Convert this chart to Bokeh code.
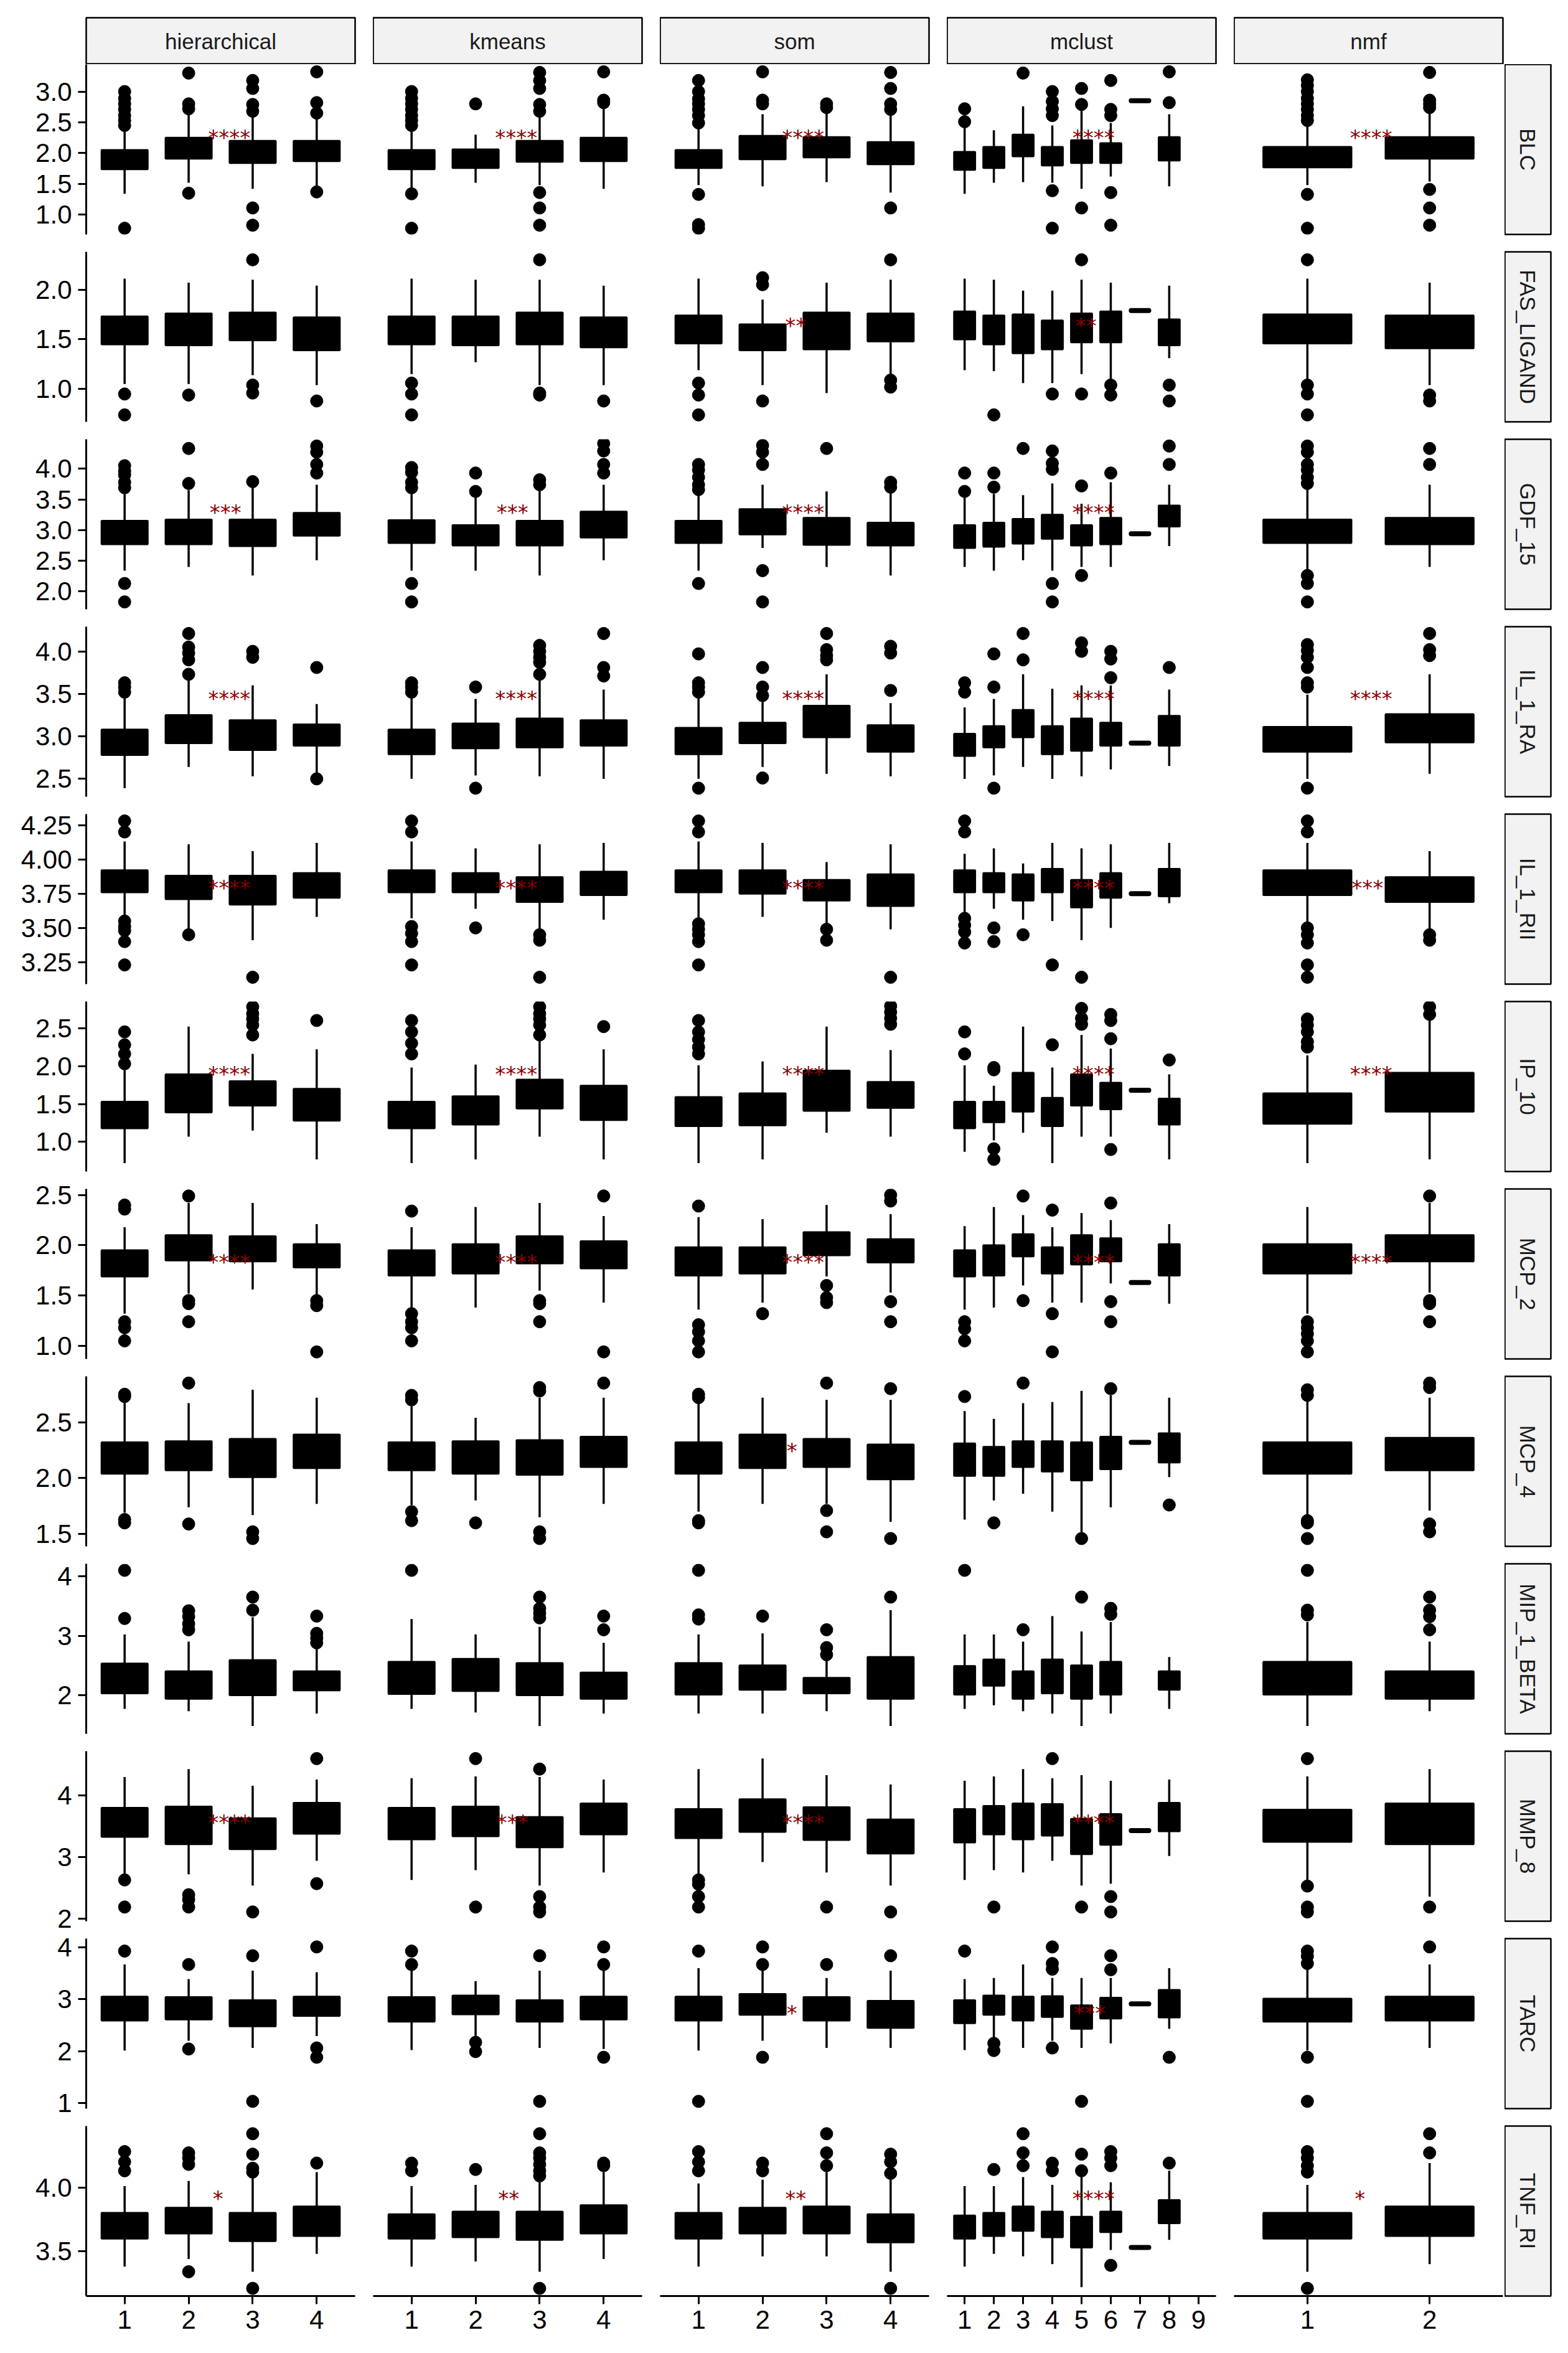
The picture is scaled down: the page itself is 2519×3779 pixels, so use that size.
import math
from bokeh.plotting import figure
from bokeh.layouts import column, row
from bokeh.models import FixedTicker, Range1d, Spacer
from bokeh.core.properties import value
from bokeh.embed import file_html
from bokeh.resources import INLINE

METHODS = ["hierarchical", "kmeans", "som", "mclust", "nmf"]
LEVELS = {"hierarchical": 4, "kmeans": 4, "som": 4, "mclust": 9, "nmf": 2}
MARKERS = ["BLC", "FAS_LIGAND", "GDF_15", "IL_1_RA", "IL_1_RII", "IP_10",
           "MCP_2", "MCP_4", "MIP_1_BETA", "MMP_8", "TARC", "TNF_RI"]

# box = (lower whisker, Q1, Q3, upper whisker); None = empty cluster
BLC_BOX = dict(
    hierarchical=[(1.34, 1.74, 2.05, 2.41), (1.52, 1.91, 2.25, 2.65), (1.42, 1.84, 2.20, 2.61), (1.47, 1.87, 2.20, 2.57)],
    kmeans=[(1.44, 1.74, 2.05, 2.41), (1.52, 1.76, 2.06, 2.30), (1.48, 1.86, 2.20, 2.61), (1.42, 1.87, 2.25, 2.72)],
    som=[(1.48, 1.76, 2.05, 2.41), (1.46, 1.90, 2.28, 2.63), (1.53, 1.93, 2.26, 2.68), (1.36, 1.82, 2.18, 2.65)],
    mclust=[(1.34, 1.73, 2.02, 2.41), (1.52, 1.76, 2.10, 2.37), (1.53, 1.95, 2.30, 2.76), (1.52, 1.80, 2.10, 2.45),
            (1.42, 1.84, 2.21, 2.72), (1.62, 1.84, 2.16, 2.49), (2.85, 2.85, 2.85, 2.85), (1.46, 1.88, 2.26, 2.63), None],
    nmf=[(1.48, 1.77, 2.10, 2.45), (1.54, 1.91, 2.26, 2.66)])
BLC_OUT = dict(
    hierarchical=[[3.00, 2.89, 2.80, 2.71, 2.61, 2.53, 2.45, 0.78], [3.30, 2.80, 2.72, 1.35], [3.18, 3.05, 2.79, 2.68, 1.11, 0.83], [3.32, 2.82, 2.65, 1.37]],
    kmeans=[[3.00, 2.89, 2.80, 2.71, 2.61, 2.53, 2.45, 1.34, 0.78], [2.80], [3.31, 3.18, 3.05, 2.79, 2.68, 1.36, 1.11, 0.83], [3.32, 2.86, 2.82]],
    som=[[3.18, 3.00, 2.88, 2.80, 2.71, 2.61, 2.49, 1.33, 0.84, 0.78], [3.32, 2.86, 2.80], [2.80, 2.74], [3.31, 3.05, 2.80, 2.71, 1.11]],
    mclust=[[2.72, 2.51], [], [3.30], [3.00, 2.84, 2.72, 2.61, 1.39, 0.78], [3.05, 2.79, 1.11], [3.18, 2.71, 2.61, 1.36, 0.83], [], [3.32, 2.82], []],
    nmf=[[3.19, 3.10, 3.00, 2.89, 2.80, 2.71, 2.61, 2.53, 1.33, 0.78], [3.31, 2.86, 2.80, 2.74, 1.41, 1.11, 0.83]])

FAS_LIGAND_BOX = dict(
    hierarchical=[(1.05, 1.45, 1.73, 2.11), (1.05, 1.44, 1.76, 2.07), (1.14, 1.49, 1.77, 2.10), (1.04, 1.39, 1.72, 2.04)],
    kmeans=[(1.15, 1.45, 1.73, 2.11), (1.27, 1.44, 1.73, 2.10), (1.04, 1.45, 1.77, 2.10), (1.04, 1.42, 1.72, 2.04)],
    som=[(1.19, 1.46, 1.74, 2.11), (1.04, 1.39, 1.65, 1.90), (0.96, 1.40, 1.77, 2.07), (1.13, 1.48, 1.76, 2.10)],
    mclust=[(1.19, 1.50, 1.78, 2.11), (1.18, 1.45, 1.74, 2.10), (1.06, 1.36, 1.75, 1.99), (1.06, 1.40, 1.69, 1.99),
            (1.15, 1.47, 1.76, 2.10), (1.09, 1.47, 1.78, 2.07), (1.79, 1.79, 1.79, 1.79), (1.31, 1.44, 1.70, 2.04), None],
    nmf=[(1.09, 1.46, 1.75, 2.11), (1.04, 1.41, 1.74, 2.07)])
FAS_LIGAND_OUT = dict(
    hierarchical=[[0.95, 0.74], [0.94], [2.30, 1.04, 0.96], [0.88]],
    kmeans=[[1.06, 0.95, 0.74], [], [2.30, 0.96, 0.94], [0.88]],
    som=[[1.06, 0.94, 0.74], [2.12, 2.05, 0.88], [], [2.30, 1.09, 1.02]],
    mclust=[[], [0.74], [], [0.95], [2.30, 0.95], [1.04, 0.94], [], [1.04, 0.88], []],
    nmf=[[2.30, 1.04, 0.95, 0.74], [0.94, 0.88]])

GDF_15_BOX = dict(
    hierarchical=[(2.34, 2.77, 3.15, 3.66), (2.40, 2.77, 3.17, 3.65), (2.26, 2.74, 3.17, 3.70), (2.51, 2.91, 3.28, 3.74)],
    kmeans=[(2.34, 2.79, 3.16, 3.66), (2.34, 2.75, 3.08, 3.55), (2.26, 2.75, 3.15, 3.66), (2.51, 2.88, 3.30, 3.74)],
    som=[(2.34, 2.79, 3.15, 3.63), (2.71, 2.93, 3.34, 3.74), (2.40, 2.76, 3.20, 3.63), (2.26, 2.75, 3.12, 3.63)],
    mclust=[(2.40, 2.71, 3.08, 3.55), (2.34, 2.73, 3.12, 3.59), (2.51, 2.78, 3.18, 3.57), (2.34, 2.86, 3.25, 3.76),
            (2.40, 2.75, 3.08, 3.43), (2.40, 2.77, 3.20, 3.78), (2.94, 2.94, 2.94, 2.94), (2.74, 3.06, 3.40, 3.74), None],
    nmf=[(2.30, 2.79, 3.17, 3.70), (2.40, 2.77, 3.20, 3.74)])
GDF_15_OUT = dict(
    hierarchical=[[4.05, 3.96, 3.90, 3.78, 3.69, 2.13, 1.83], [4.33, 3.76], [3.79], [4.37, 4.27, 4.07, 3.93]],
    kmeans=[[4.02, 3.94, 3.78, 3.69, 2.13, 1.83], [3.93, 3.63], [3.82, 3.74], [4.41, 4.29, 4.07, 3.93]],
    som=[[4.07, 3.98, 3.86, 3.74, 3.66, 2.13], [4.38, 4.27, 4.07, 2.34, 1.83], [4.33], [3.78, 3.70]],
    mclust=[[3.93, 3.63], [3.93, 3.70], [4.33], [4.29, 4.09, 3.99, 2.13, 1.83], [3.72, 2.26], [3.93], [], [4.37, 4.07], []],
    nmf=[[4.37, 4.27, 4.07, 3.98, 3.86, 3.76, 2.26, 2.13, 1.83], [4.33, 4.07]])

IL_1_RA_BOX = dict(
    hierarchical=[(2.39, 2.78, 3.08, 3.46), (2.64, 2.92, 3.25, 3.66), (2.53, 2.84, 3.19, 3.60), (2.57, 2.89, 3.14, 3.38)],
    kmeans=[(2.50, 2.79, 3.08, 3.46), (2.54, 2.86, 3.15, 3.44), (2.53, 2.87, 3.21, 3.66), (2.50, 2.89, 3.19, 3.55)],
    som=[(2.50, 2.79, 3.10, 3.46), (2.64, 2.92, 3.16, 3.41), (2.56, 2.99, 3.36, 3.73), (2.53, 2.82, 3.13, 3.39)],
    mclust=[(2.50, 2.77, 3.03, 3.34), (2.54, 2.87, 3.12, 3.44), (2.64, 2.99, 3.31, 3.73), (2.50, 2.79, 3.12, 3.56),
            (2.53, 2.83, 3.21, 3.60), (2.61, 2.89, 3.16, 3.60), (2.92, 2.92, 2.92, 2.92), (2.65, 2.89, 3.24, 3.55), None],
    nmf=[(2.50, 2.82, 3.11, 3.49), (2.56, 2.93, 3.26, 3.73)])
IL_1_RA_OUT = dict(
    hierarchical=[[3.63, 3.58, 3.52], [4.21, 4.05, 3.98, 3.90, 3.73], [4.00, 3.93], [3.81, 2.50]],
    kmeans=[[3.63, 3.58, 3.52], [3.58, 2.39], [4.07, 4.00, 3.93, 3.87, 3.73], [4.21, 3.81, 3.71]],
    som=[[3.97, 3.63, 3.58, 3.52, 2.39], [3.81, 3.58, 3.48, 2.51], [4.21, 4.02, 3.95, 3.90], [4.06, 3.98, 3.54]],
    mclust=[[3.63, 3.52], [3.97, 3.58, 2.39], [4.21, 3.90], [], [4.10, 4.00], [4.00, 3.91, 3.69], [], [3.81], []],
    nmf=[[4.08, 4.01, 3.93, 3.81, 3.63, 3.58, 2.39], [4.21, 4.02, 3.95]])

IL_1_RII_BOX = dict(
    hierarchical=[(3.57, 3.76, 3.92, 4.13), (3.48, 3.71, 3.88, 4.11), (3.41, 3.67, 3.88, 4.06), (3.58, 3.72, 3.90, 4.12)],
    kmeans=[(3.57, 3.76, 3.92, 4.13), (3.64, 3.76, 3.90, 4.08), (3.47, 3.69, 3.87, 4.11), (3.56, 3.74, 3.91, 4.12)],
    som=[(3.56, 3.76, 3.92, 4.13), (3.58, 3.75, 3.92, 4.12), (3.52, 3.70, 3.85, 3.98), (3.49, 3.66, 3.89, 4.11)],
    mclust=[(3.60, 3.76, 3.92, 4.04), (3.64, 3.76, 3.90, 4.08), (3.56, 3.70, 3.89, 3.97), (3.55, 3.76, 3.93, 4.12),
            (3.41, 3.65, 3.85, 4.08), (3.50, 3.72, 3.90, 4.11), (3.75, 3.75, 3.75, 3.75), (3.68, 3.73, 3.93, 4.12), None],
    nmf=[(3.53, 3.74, 3.92, 4.12), (3.47, 3.69, 3.87, 4.06)])
IL_1_RII_OUT = dict(
    hierarchical=[[4.28, 4.20, 3.55, 3.51, 3.48, 3.40, 3.23], [3.45], [3.14], []],
    kmeans=[[4.28, 4.20, 3.51, 3.46, 3.40, 3.23], [3.50], [3.45, 3.41, 3.14], []],
    som=[[4.28, 4.20, 3.53, 3.49, 3.45, 3.40, 3.23], [], [3.49, 3.41], [3.14]],
    mclust=[[4.28, 4.20, 3.57, 3.52, 3.47, 3.39], [3.50, 3.40], [3.45], [3.23], [3.14], [], [], [], []],
    nmf=[[4.28, 4.20, 3.50, 3.45, 3.39, 3.23, 3.14], [3.45, 3.41]])

IP_10_BOX = dict(
    hierarchical=[(0.72, 1.18, 1.53, 1.97), (1.07, 1.39, 1.89, 2.52), (1.15, 1.48, 1.80, 2.16), (0.77, 1.28, 1.70, 2.22)],
    kmeans=[(0.72, 1.18, 1.53, 1.98), (0.77, 1.23, 1.60, 2.02), (1.07, 1.44, 1.82, 2.35), (0.77, 1.29, 1.74, 2.22)],
    som=[(0.72, 1.21, 1.59, 2.01), (0.77, 1.22, 1.64, 2.06), (1.12, 1.41, 1.94, 2.52), (1.07, 1.45, 1.79, 2.21)],
    mclust=[(0.87, 1.18, 1.53, 2.01), (1.02, 1.26, 1.53, 1.74), (1.12, 1.40, 1.91, 2.52), (0.72, 1.21, 1.58, 1.98),
            (1.07, 1.48, 1.89, 2.41), (1.07, 1.43, 1.78, 2.23), (1.68, 1.68, 1.68, 1.68), (0.77, 1.23, 1.57, 1.89), None],
    nmf=[(0.72, 1.24, 1.64, 2.14), (0.77, 1.40, 1.91, 2.60)])
IP_10_OUT = dict(
    hierarchical=[[2.45, 2.28, 2.16, 2.03], [], [2.78, 2.69, 2.62, 2.54, 2.41], [2.60]],
    kmeans=[[2.60, 2.45, 2.30, 2.16], [], [2.78, 2.69, 2.62, 2.54, 2.41], [2.52]],
    som=[[2.60, 2.45, 2.35, 2.25, 2.16], [], [], [2.79, 2.71, 2.63, 2.55]],
    mclust=[[2.45, 2.16], [1.98, 1.95, 0.91, 0.77], [], [2.28], [2.76, 2.63, 2.55], [2.68, 2.60, 2.36, 0.90], [], [2.08], []],
    nmf=[[2.62, 2.54, 2.45, 2.32, 2.25], [2.78, 2.68]])

MCP_2_BOX = dict(
    hierarchical=[(1.32, 1.69, 1.95, 2.18), (1.52, 1.85, 2.10, 2.42), (1.56, 1.84, 2.09, 2.42), (1.50, 1.78, 2.01, 2.21)],
    kmeans=[(1.38, 1.70, 1.95, 2.18), (1.38, 1.72, 2.01, 2.38), (1.55, 1.82, 2.09, 2.42), (1.43, 1.77, 2.04, 2.29)],
    som=[(1.36, 1.70, 1.98, 2.28), (1.43, 1.72, 1.98, 2.26), (1.69, 1.90, 2.13, 2.40), (1.53, 1.83, 2.06, 2.31)],
    mclust=[(1.36, 1.69, 1.95, 2.19), (1.38, 1.70, 2.00, 2.38), (1.60, 1.89, 2.11, 2.30), (1.43, 1.72, 1.98, 2.18),
            (1.43, 1.81, 2.10, 2.32), (1.62, 1.84, 2.07, 2.25), (1.63, 1.63, 1.63, 1.63), (1.42, 1.70, 2.01, 2.21), None],
    nmf=[(1.32, 1.72, 2.01, 2.38), (1.53, 1.84, 2.10, 2.42)])
MCP_2_OUT = dict(
    hierarchical=[[2.40, 2.36, 1.24, 1.18, 1.05], [2.49, 1.45, 1.42, 1.24], [], [1.45, 1.40, 0.94]],
    kmeans=[[2.34, 1.32, 1.24, 1.18, 1.05], [], [1.45, 1.42, 1.24], [2.49, 0.94]],
    som=[[2.39, 1.21, 1.14, 1.05, 0.94], [1.32], [1.60, 1.48, 1.43], [2.50, 2.44, 1.44, 1.24]],
    mclust=[[1.24, 1.17, 1.05], [], [2.49, 1.45], [2.35, 1.32, 0.94], [], [2.42, 1.44, 1.24], [], [], []],
    nmf=[[1.24, 1.18, 1.12, 1.05, 0.94], [2.49, 1.45, 1.42, 1.24]])

MCP_4_BOX = dict(
    hierarchical=[(1.69, 2.04, 2.32, 2.68), (1.74, 2.07, 2.33, 2.67), (1.67, 2.01, 2.35, 2.79), (1.77, 2.09, 2.39, 2.72)],
    kmeans=[(1.76, 2.07, 2.32, 2.68), (1.80, 2.04, 2.33, 2.54), (1.65, 2.03, 2.34, 2.72), (1.77, 2.10, 2.37, 2.72)],
    som=[(1.70, 2.04, 2.32, 2.68), (1.77, 2.09, 2.39, 2.72), (1.77, 2.10, 2.35, 2.70), (1.61, 1.99, 2.30, 2.70)],
    mclust=[(1.63, 2.02, 2.31, 2.60), (1.80, 2.02, 2.28, 2.53), (1.86, 2.10, 2.33, 2.67), (1.70, 2.06, 2.33, 2.68),
            (1.50, 1.98, 2.32, 2.78), (1.74, 2.08, 2.37, 2.74), (2.32, 2.32, 2.32, 2.32), (2.01, 2.14, 2.40, 2.72), None],
    nmf=[(1.67, 2.04, 2.32, 2.70), (1.71, 2.07, 2.36, 2.72)])
MCP_4_OUT = dict(
    hierarchical=[[2.75, 2.73, 1.63, 1.60], [2.85, 1.59], [1.52, 1.46], []],
    kmeans=[[2.74, 2.70, 1.70, 1.62], [1.60], [2.81, 2.78, 1.52, 1.46], [2.85]],
    som=[[2.75, 2.72, 1.62, 1.60], [], [2.85, 1.71, 1.52], [2.80, 1.46]],
    mclust=[[2.73], [1.60], [2.85], [], [1.46], [2.80], [], [1.76], []],
    nmf=[[2.79, 2.74, 1.62, 1.60, 1.46], [2.85, 2.81, 1.59, 1.52]])

MIP_1_BETA_BOX = dict(
    hierarchical=[(1.77, 2.03, 2.53, 3.02), (1.73, 1.94, 2.40, 2.90), (1.48, 2.00, 2.59, 3.31), (1.69, 2.08, 2.40, 2.80)],
    kmeans=[(1.77, 2.02, 2.56, 3.28), (1.71, 2.07, 2.61, 3.02), (1.48, 2.00, 2.54, 3.15), (1.69, 1.94, 2.38, 2.88)],
    som=[(1.69, 2.01, 2.54, 3.02), (1.69, 2.09, 2.50, 3.04), (1.73, 2.03, 2.29, 2.60), (1.48, 1.94, 2.64, 3.43)],
    mclust=[(1.77, 2.01, 2.49, 3.02), (1.83, 2.16, 2.60, 3.02), (1.73, 1.94, 2.40, 2.90), (1.69, 2.03, 2.60, 3.33),
            (1.48, 1.94, 2.50, 3.07), (1.69, 2.01, 2.56, 3.23), None, (1.77, 2.09, 2.40, 2.64), None],
    nmf=[(1.48, 2.01, 2.56, 3.23), (1.73, 1.94, 2.40, 2.90)])
MIP_1_BETA_OUT = dict(
    hierarchical=[[4.10, 3.29], [3.42, 3.32, 3.20, 3.10], [3.65, 3.43], [3.33, 3.04, 2.96, 2.88]],
    kmeans=[[4.10], [], [3.65, 3.46, 3.38, 3.30], [3.33, 3.10]],
    som=[[4.10, 3.35, 3.28], [3.33], [3.10, 2.80, 2.68], [3.65]],
    mclust=[[4.10], [], [3.10], [], [3.65], [3.46, 3.36], [], [], []],
    nmf=[[4.10, 3.43, 3.35], [3.65, 3.43, 3.32, 3.10]])

MMP_8_BOX = dict(
    hierarchical=[(2.72, 3.33, 3.80, 4.30), (2.72, 3.21, 3.82, 4.43), (2.54, 3.13, 3.63, 4.16), (2.94, 3.38, 3.88, 4.26)],
    kmeans=[(2.63, 3.29, 3.80, 4.28), (2.79, 3.34, 3.82, 4.31), (2.54, 3.16, 3.65, 4.30), (2.75, 3.37, 3.87, 4.26)],
    som=[(2.69, 3.31, 3.78, 4.43), (2.92, 3.41, 3.94, 4.60), (2.75, 3.28, 3.81, 4.33), (2.54, 3.06, 3.61, 4.18)],
    mclust=[(2.63, 3.24, 3.78, 4.24), (2.79, 3.37, 3.83, 4.31), (2.75, 3.29, 3.87, 4.43), (2.94, 3.35, 3.86, 4.28),
            (2.54, 3.05, 3.62, 4.33), (2.57, 3.20, 3.70, 4.24), (3.43, 3.43, 3.43, 3.43), (3.02, 3.42, 3.88, 4.26), None],
    nmf=[(2.63, 3.25, 3.77, 4.31), (2.36, 3.21, 3.87, 4.43)])
MMP_8_OUT = dict(
    hierarchical=[[2.63, 2.19], [2.39, 2.31, 2.19], [2.11], [4.60, 2.57]],
    kmeans=[[], [4.60, 2.19], [4.43, 2.36, 2.19, 2.11], []],
    som=[[2.63, 2.56, 2.36, 2.19], [], [2.19], [2.11]],
    mclust=[[], [2.19], [], [4.60], [2.19], [2.36, 2.11], [], [], []],
    nmf=[[4.60, 2.53, 2.19, 2.11], [2.19]])

TARC_BOX = dict(
    hierarchical=[(2.01, 2.59, 3.05, 3.67), (2.20, 2.61, 3.04, 3.39), (2.06, 2.48, 2.98, 3.55), (2.29, 2.68, 3.05, 3.52)],
    kmeans=[(2.02, 2.57, 3.04, 3.60), (2.27, 2.71, 3.07, 3.35), (2.06, 2.57, 2.98, 3.55), (2.04, 2.61, 3.05, 3.58)],
    som=[(2.01, 2.59, 3.05, 3.60), (2.20, 2.70, 3.10, 3.60), (2.06, 2.59, 3.04, 3.41), (2.06, 2.45, 2.97, 3.55)],
    mclust=[(2.02, 2.54, 2.98, 3.39), (2.27, 2.70, 3.07, 3.41), (2.06, 2.59, 3.05, 3.67), (2.20, 2.66, 3.06, 3.41),
            (2.06, 2.43, 2.88, 3.41), (2.15, 2.63, 3.03, 3.41), (2.91, 2.91, 2.91, 2.91), (2.43, 2.65, 3.18, 3.60), None],
    nmf=[(2.01, 2.57, 3.01, 3.58), (2.06, 2.59, 3.05, 3.67)])
TARC_OUT = dict(
    hierarchical=[[3.93], [3.67, 2.04], [3.84, 1.03], [4.01, 2.06, 1.88]],
    kmeans=[[3.93, 3.67], [2.17, 1.99], [3.84, 1.03], [4.01, 3.67, 1.88]],
    som=[[3.93, 1.03], [4.01, 3.67, 1.88], [3.67], [3.84]],
    mclust=[[3.93], [2.15, 2.01], [], [4.01, 3.69, 3.58, 2.06], [1.03], [3.84, 3.57], [], [1.88], []],
    nmf=[[3.93, 3.83, 3.69, 1.88, 1.03], [4.01]])

TNF_RI_BOX = dict(
    hierarchical=[(3.38, 3.60, 3.80, 4.01), (3.44, 3.64, 3.84, 4.05), (3.34, 3.58, 3.80, 4.08), (3.48, 3.62, 3.85, 4.12)],
    kmeans=[(3.38, 3.60, 3.79, 4.01), (3.42, 3.61, 3.81, 4.02), (3.34, 3.59, 3.81, 4.08), (3.44, 3.64, 3.86, 4.12)],
    som=[(3.38, 3.60, 3.80, 4.03), (3.46, 3.64, 3.84, 4.06), (3.46, 3.64, 3.85, 4.12), (3.34, 3.57, 3.79, 4.06)],
    mclust=[(3.38, 3.60, 3.78, 4.01), (3.48, 3.62, 3.80, 4.01), (3.46, 3.66, 3.85, 4.08), (3.40, 3.61, 3.81, 4.02),
            (3.22, 3.53, 3.77, 4.09), (3.51, 3.65, 3.81, 4.04), (3.53, 3.53, 3.53, 3.53), (3.59, 3.72, 3.90, 4.13), None],
    nmf=[(3.34, 3.60, 3.80, 4.02), (3.40, 3.62, 3.85, 4.19)])
TNF_RI_OUT = dict(
    hierarchical=[[4.28, 4.20, 4.13], [4.27, 4.23, 4.18, 3.34], [4.42, 4.26, 4.15, 4.12, 3.21], [4.19]],
    kmeans=[[4.19, 4.13], [4.14], [4.42, 4.27, 4.23, 4.18, 4.13, 4.09, 3.21], [4.19, 4.17]],
    som=[[4.28, 4.20, 4.13], [4.19, 4.13], [4.42, 4.27, 4.17], [4.26, 4.20, 4.11, 3.21]],
    mclust=[[], [4.14], [4.42, 4.27, 4.17], [4.19, 4.13], [4.26, 4.13], [4.28, 4.23, 4.17, 3.39], [], [4.19], []],
    nmf=[[4.28, 4.23, 4.17, 4.12, 3.21], [4.42, 4.27]])

BOXES = {"BLC": BLC_BOX, "FAS_LIGAND": FAS_LIGAND_BOX, "GDF_15": GDF_15_BOX, "IL_1_RA": IL_1_RA_BOX,
         "IL_1_RII": IL_1_RII_BOX, "IP_10": IP_10_BOX, "MCP_2": MCP_2_BOX, "MCP_4": MCP_4_BOX,
         "MIP_1_BETA": MIP_1_BETA_BOX, "MMP_8": MMP_8_BOX, "TARC": TARC_BOX, "TNF_RI": TNF_RI_BOX}
OUTLIERS = {"BLC": BLC_OUT, "FAS_LIGAND": FAS_LIGAND_OUT, "GDF_15": GDF_15_OUT, "IL_1_RA": IL_1_RA_OUT,
            "IL_1_RII": IL_1_RII_OUT, "IP_10": IP_10_OUT, "MCP_2": MCP_2_OUT, "MCP_4": MCP_4_OUT,
            "MIP_1_BETA": MIP_1_BETA_OUT, "MMP_8": MMP_8_OUT, "TARC": TARC_OUT, "TNF_RI": TNF_RI_OUT}

Y_RANGE = {"BLC": (0.68, 3.44), "FAS_LIGAND": (0.67, 2.38), "GDF_15": (1.71, 4.48), "IL_1_RA": (2.29, 4.29),
           "IL_1_RII": (3.09, 4.33), "IP_10": (0.61, 2.85), "MCP_2": (0.87, 2.56), "MCP_4": (1.39, 2.91),
           "MIP_1_BETA": (1.35, 4.21), "MMP_8": (1.96, 4.72), "TARC": (0.89, 4.17), "TNF_RI": (3.15, 4.48)}
Y_TICKS = {"BLC": [1.0, 1.5, 2.0, 2.5, 3.0], "FAS_LIGAND": [1.0, 1.5, 2.0], "GDF_15": [2.0, 2.5, 3.0, 3.5, 4.0],
           "IL_1_RA": [2.5, 3.0, 3.5, 4.0], "IL_1_RII": [3.25, 3.50, 3.75, 4.00, 4.25], "IP_10": [1.0, 1.5, 2.0, 2.5],
           "MCP_2": [1.0, 1.5, 2.0, 2.5], "MCP_4": [1.5, 2.0, 2.5], "MIP_1_BETA": [2, 3, 4], "MMP_8": [2, 3, 4],
           "TARC": [1, 2, 3, 4], "TNF_RI": [3.5, 4.0]}
Y_DECIMALS = {"BLC": 1, "FAS_LIGAND": 1, "GDF_15": 1, "IL_1_RA": 1, "IL_1_RII": 2, "IP_10": 1, "MCP_2": 1,
              "MCP_4": 1, "MIP_1_BETA": 0, "MMP_8": 0, "TARC": 0, "TNF_RI": 1}

# significance labels (hierarchical, kmeans, som, mclust, nmf) and their height
SIGNIF = {"BLC": ["****", "****", "****", "****", "****"], "FAS_LIGAND": ["", "", "**", "**", ""],
          "GDF_15": ["***", "***", "****", "****", ""], "IL_1_RA": ["****", "****", "****", "****", "****"],
          "IL_1_RII": ["****", "****", "****", "****", "***"], "IP_10": ["****", "****", "****", "****", "****"],
          "MCP_2": ["****", "****", "****", "****", "****"], "MCP_4": ["", "", "*", "", ""],
          "MIP_1_BETA": ["", "", "", "", ""], "MMP_8": ["****", "***", "****", "****", ""],
          "TARC": ["", "", "*", "***", ""], "TNF_RI": ["*", "**", "**", "****", "*"]}
SIGNIF_Y = {"BLC": 2.33, "FAS_LIGAND": 1.69, "GDF_15": 3.37, "IL_1_RA": 3.50, "IL_1_RII": 3.83, "IP_10": 1.96,
            "MCP_2": 1.88, "MCP_4": 2.29, "MIP_1_BETA": 3.0, "MMP_8": 3.64, "TARC": 2.83, "TNF_RI": 3.95}

FRAME_W, FRAME_H = 432, 273
LEFT, GAP_X, STRIP = 138, 29, 74
# space above / below each row of panels (pairs sum to the 28px gap between rows)
ROW_TOP = [0, 14, 14, 14, 14, 14, 18, 14, 14, 14, 8, 12]
ROW_BOTTOM = [14, 14, 14, 14, 14, 10, 14, 14, 14, 20, 16, 92]
FONT = "Liberation Sans"
BOX_W = 0.72
STAR_FRAC = 0.5


def style_axis(ax):
    ax.axis_line_width = 3
    ax.axis_line_color = "black"
    ax.major_tick_line_width = 3
    ax.major_tick_line_color = "black"
    ax.major_tick_out = 13
    ax.major_tick_in = 0
    ax.minor_tick_line_color = None
    ax.major_label_text_font = FONT
    ax.major_label_text_font_size = "42px"
    ax.major_label_text_color = "black"
    ax.major_label_standoff = 10


def make_panel(mi, ci):
    marker = MARKERS[mi]
    method = METHODS[ci]
    n = LEVELS[method]
    first_col = ci == 0
    last_row = mi == len(MARKERS) - 1
    p = figure(frame_width=FRAME_W, frame_height=FRAME_H, title=None,
               x_range=Range1d(0.4, n + 0.6), y_range=Range1d(*Y_RANGE[marker]),
               x_axis_location="below" if last_row else None,
               y_axis_location="left" if first_col else None,
               min_border_left=LEFT if first_col else 0,
               min_border_right=GAP_X if ci < 4 else 3,
               min_border_top=ROW_TOP[mi], min_border_bottom=ROW_BOTTOM[mi],
               output_backend="svg", toolbar_location=None)
    p.xgrid.visible = False
    p.ygrid.visible = False
    p.outline_line_color = None
    p.background_fill_color = "white"
    if first_col:
        ticks = Y_TICKS[marker]
        d = Y_DECIMALS[marker]
        p.yaxis.ticker = FixedTicker(ticks=ticks, minor_ticks=[])
        p.yaxis.major_label_overrides = {t: f"{t:.{d}f}" for t in ticks}
        style_axis(p.yaxis[0])
    if last_row:
        p.xaxis.ticker = FixedTicker(ticks=list(range(1, n + 1)), minor_ticks=[])
        p.xaxis.major_label_overrides = {k: str(k) for k in range(1, n + 1)}
        style_axis(p.xaxis[0])

    boxes = BOXES[marker][method]
    outs = OUTLIERS[marker][method]
    xs, lo, q1, q3, hi = [], [], [], [], []
    mx, mv = [], []
    ox, oy = [], []
    for k, b in enumerate(boxes):
        lvl = k + 1
        if b is not None:
            xs.append(lvl); lo.append(b[0]); q1.append(b[1]); q3.append(b[2]); hi.append(b[3])
            if b[1] == b[2]:
                mx.append(lvl); mv.append(b[1])
        for v in outs[k]:
            ox.append(lvl); oy.append(v)
    p.segment(x0=xs, y0=q3, x1=xs, y1=hi, line_color="black", line_width=3.5)
    p.segment(x0=xs, y0=q1, x1=xs, y1=lo, line_color="black", line_width=3.5)
    p.vbar(x=xs, width=BOX_W, bottom=q1, top=q3, fill_color="black", line_color="black", line_width=3)
    if mx:
        p.segment(x0=[x - 0.3 for x in mx], y0=mv, x1=[x + 0.3 for x in mx], y1=mv,
                  line_color="black", line_width=8, line_cap="round")
    p.scatter(x=ox, y=oy, size=20, marker="circle", fill_color="black", line_color="black")

    label = SIGNIF[marker][ci]
    if label:
        sx = 0.4 + STAR_FRAC * n
        p.text(x=[sx], y=[SIGNIF_Y[marker]], text=[label], text_color="#8B0000",
               text_font=value("DejaVu Sans"), text_font_size="34px",
               text_align="center", text_baseline="middle",
               x_offset=6 * len(label), y_offset=8)
    return p


def make_top_strip(ci):
    p = figure(frame_width=FRAME_W, frame_height=75, title=None,
               x_range=Range1d(0, 1), y_range=Range1d(0, 1),
               x_axis_location=None, y_axis_location=None,
               min_border_left=LEFT if ci == 0 else 0,
               min_border_right=GAP_X if ci < 4 else 3,
               min_border_top=28, min_border_bottom=0,
               output_backend="svg", toolbar_location=None)
    p.xgrid.visible = False
    p.ygrid.visible = False
    p.background_fill_color = "#F2F2F2"
    p.outline_line_color = "black"
    p.outline_line_width = 2.5
    p.text(x=[0.5], y=[0.5], text=[METHODS[ci]], text_color="#1A1A1A",
           text_font=value(FONT), text_font_size="35px", text_align="center", text_baseline="middle")
    return p


def make_side_strip(mi):
    p = figure(frame_width=STRIP, frame_height=FRAME_H, title=None,
               x_range=Range1d(0, 1), y_range=Range1d(0, 1),
               x_axis_location=None, y_axis_location=None,
               min_border_left=0, min_border_right=28,
               min_border_top=ROW_TOP[mi], min_border_bottom=ROW_BOTTOM[mi],
               output_backend="svg", toolbar_location=None)
    p.xgrid.visible = False
    p.ygrid.visible = False
    p.background_fill_color = "#F2F2F2"
    p.outline_line_color = "black"
    p.outline_line_width = 2.5
    p.text(x=[0.5], y=[0.5], text=[MARKERS[mi]], text_color="#1A1A1A", angle=-math.pi / 2,
           text_font=value(FONT), text_font_size="35px", text_align="center", text_baseline="middle")
    return p


rows = [row([make_top_strip(ci) for ci in range(5)] + [Spacer(width=STRIP + 28, height=103)], spacing=0)]
for mi in range(len(MARKERS)):
    rows.append(row([make_panel(mi, ci) for ci in range(5)] + [make_side_strip(mi)], spacing=0))
layout = column(rows, spacing=0)

open("out.html", "w").write(file_html(layout, INLINE))
